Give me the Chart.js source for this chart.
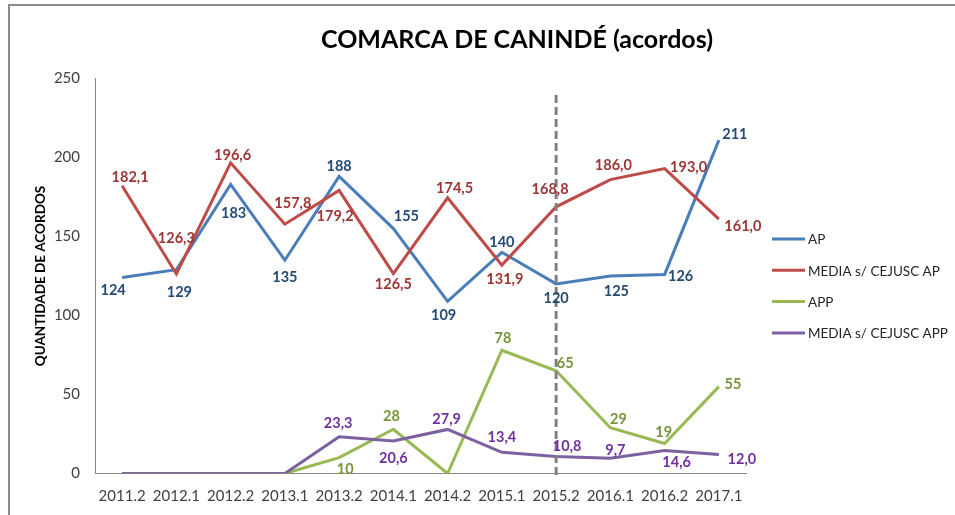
<!doctype html>
<html lang="pt">
<head>
<meta charset="utf-8">
<title>Comarca de Canindé (acordos)</title>
<script src="https://cdn.jsdelivr.net/npm/chart.js@4.4.1/dist/chart.umd.min.js"></script>
<style>
 html,body{margin:0;padding:0;background:#fff;overflow:hidden}
 #wrap{position:relative;width:955px;height:515px}
 #frame{position:absolute;left:8px;top:4px;width:2000px;height:2000px;border:2px solid #8c8c8c}
 canvas{position:absolute;left:0;top:0}
</style>
</head>
<body>
<div id="wrap">
 <div id="frame"></div>
 <canvas id="chart" width="955" height="515"></canvas>
</div>
<script>
/* ===== Daten ======================================================== */
const CATEGORIES = ['2011.2','2012.1','2012.2','2013.1','2013.2','2014.1','2014.2','2015.1','2015.2','2016.1','2016.2','2017.1'];
const AP        = [124, 129, 183, 135, 188, 155, 109, 140, 120, 125, 126, 211];
const MEDIA_AP  = [182.1, 126.3, 196.6, 157.8, 179.2, 126.5, 174.5, 131.9, 168.8, 186.0, 193.0, 161.0];
const APP       = [0, 0, 0, 0, 10, 28, 0, 78, 65, 29, 19, 55];
const MEDIA_APP = [0, 0, 0, 0, 23.3, 20.6, 27.9, 13.4, 10.8, 9.7, 14.6, 12.0];
const SERIES_NAMES = ['AP', 'MEDIA s/ CEJUSC AP', 'APP', 'MEDIA s/ CEJUSC APP'];
const Y_MIN = 0, Y_MAX = 250, Y_STEP = 50;
const DIVIDER_CATEGORY = '2015.2';

/* Label-Versatz (dx, dy) relativ zum Punkt, null = kein Label */
const AP_LBL        = [[-9,13],[3,23],[3,29],[0,17],[0,-10],[13,-12],[-4,14],[0,-10],[0,14],[6,15],[16,2],[16,-6]];
const MEDIA_AP_LBL  = [[8,-8],[0,-36],[2,-8],[8,-21],[-4,26],[0,11],[7,-9],[3,14],[-6,-17],[3,-14],[24,-1],[24,7]];
const APP_LBL       = [null,null,null,null,[6,12],[-2,-13],null,[1,-12],[9,-7],[8,-8],[-1,-11],[14,-2]];
const MEDIA_APP_LBL = [null,null,null,null,[-1,-13],[0,17],[-1,-10],[0,-15],[11,-10],[5,-8],[12,12],[23,5]];

const FONT = 'Lato, "Open Sans", "Liberation Sans", sans-serif';

const fmtInt = v => String(Math.round(v));
const fmtDec = v => v.toFixed(1).replace('.', ',');

const datasets = [
  {label:SERIES_NAMES[0], data:AP,        borderColor:'#4a7ebb', lbl:AP_LBL,        lblColor:'#264a73', fmt:fmtInt, order:4},
  {label:SERIES_NAMES[1], data:MEDIA_AP,  borderColor:'#be4b48', lbl:MEDIA_AP_LBL,  lblColor:'#9c3634', fmt:fmtDec, order:3},
  {label:SERIES_NAMES[2], data:APP,       borderColor:'#98b954', lbl:APP_LBL,       lblColor:'#77933c', fmt:fmtInt, order:2},
  {label:SERIES_NAMES[3], data:MEDIA_APP, borderColor:'#7d60a0', lbl:MEDIA_APP_LBL, lblColor:'#7030a0', fmt:fmtDec, order:1}
].map(d => Object.assign(d, {borderWidth:3, pointRadius:0, pointHoverRadius:0, tension:0, fill:false}));

/* ===== Plugin: Titel, Trennlinie, Labels, Legende ==================== */
const decor = {
  id:'decor',
  afterDatasetsDraw(chart){
    const ctx = chart.ctx;
    const x = chart.scales.x;
    // gestrichelte Linie
    const px = x.getPixelForValue(CATEGORIES.indexOf(DIVIDER_CATEGORY));
    ctx.save();
    ctx.strokeStyle = '#808080';
    ctx.lineWidth = 3;
    ctx.setLineDash([8,4]);
    ctx.beginPath();
    ctx.moveTo(px, 95);
    ctx.lineTo(px, 479);
    ctx.stroke();
    ctx.restore();

    // Datenlabels
    ctx.save();
    ctx.font = 'bold 14.5px ' + FONT;
    ctx.textAlign = 'center';
    ctx.textBaseline = 'middle';
    chart.data.datasets.forEach((ds, di) => {
      const meta = chart.getDatasetMeta(di);
      ctx.fillStyle = ds.lblColor;
      meta.data.forEach((pt, i) => {
        const off = ds.lbl[i];
        if (!off) return;
        ctx.fillText(ds.fmt(ds.data[i]), pt.x + off[0], pt.y + off[1]);
      });
    });
    ctx.restore();
  },
  afterDraw(chart){
    const ctx = chart.ctx;
    ctx.save();
    // Titel
    ctx.fillStyle = '#000';
    ctx.font = 'bold 25px ' + FONT;
    ctx.textAlign = 'center';
    ctx.textBaseline = 'middle';
    ctx.fillText('COMARCA DE CANINDÉ (acordos)', 517, 40);
    // Legende
    ctx.font = '13.5px ' + FONT;
    ctx.textAlign = 'left';
    chart.data.datasets.forEach((ds, i) => {
      const ly = 239 + i * 31.3;
      ctx.strokeStyle = ds.borderColor;
      ctx.lineWidth = 3;
      ctx.beginPath();
      ctx.moveTo(772, ly);
      ctx.lineTo(805, ly);
      ctx.stroke();
      ctx.fillStyle = '#262626';
      ctx.fillText(ds.label, 808, ly + 1);
    });
    ctx.restore();
  }
};

new Chart(document.getElementById('chart'), {
  type:'line',
  data:{labels:CATEGORIES, datasets},
  options:{
    responsive:false,
    devicePixelRatio:1,
    animation:false,
    events:[],
    layout:{padding:{left:0, top:78.5, right:209, bottom:0}},
    plugins:{legend:{display:false}, title:{display:false}, tooltip:{enabled:false}},
    scales:{
      x:{
        offset:true,
        grid:{display:false, drawTicks:false},
        border:{display:true, color:'#868686', width:1},
        ticks:{color:'#404040', font:{family:FONT, size:15}, padding:14, maxRotation:0, autoSkip:false},
        afterFit(s){ s.height = 41.5; }
      },
      y:{
        min:Y_MIN, max:Y_MAX,
        grid:{display:false, drawTicks:false},
        border:{display:true, color:'#868686', width:1},
        ticks:{stepSize:Y_STEP, color:'#404040', font:{family:FONT, size:15}, padding:15},
        title:{display:true, text:'QUANTIDADE DE ACORDOS', color:'#000', font:{family:FONT, size:13.5, weight:'bold'}, padding:{top:33, bottom:0}},
        afterFit(s){ s.width = 95; }
      }
    }
  },
  plugins:[decor]
});
</script>
</body>
</html>
